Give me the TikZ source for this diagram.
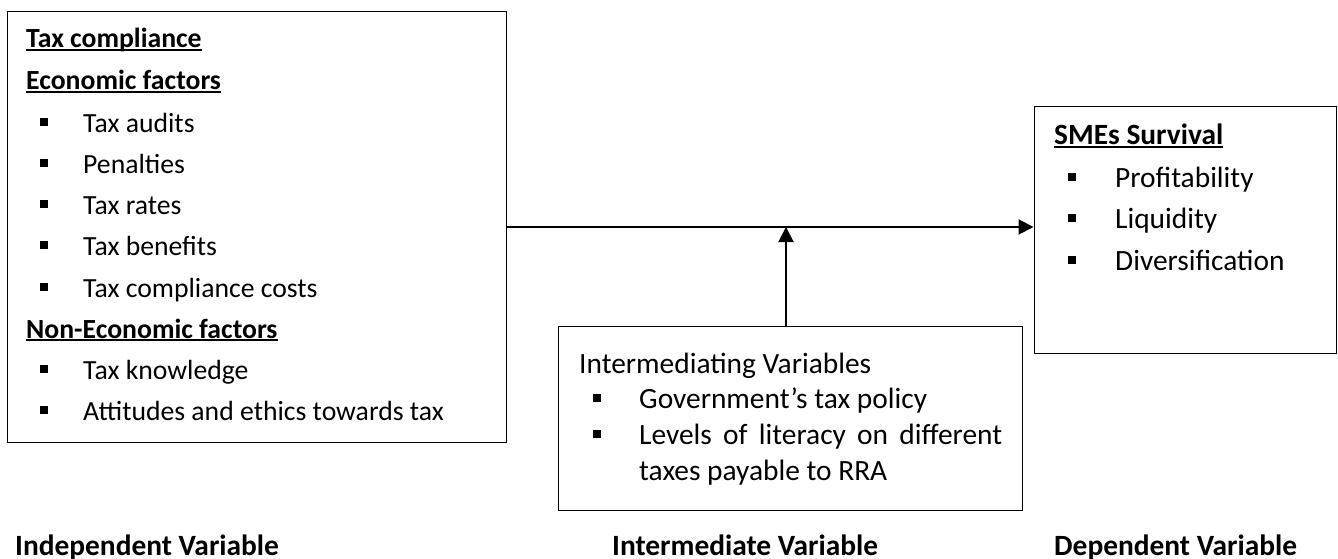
\documentclass[tikz,border=0pt]{standalone}
\usepackage{fontspec}
\setmainfont{Carlito}
\usepackage{tikz}
\usetikzlibrary{arrows.meta}
\usetikzlibrary{positioning}
\newcommand{\ulhead}[1]{\setbox0\hbox{#1}\rlap{\rule[-3pt]{\wd0}{1.6pt}}\box0}
\newcommand{\sqbul}[1]{\makebox[#1][l]{\rule[6pt]{8pt}{8pt}}}

\begin{document}
\begin{tikzpicture}[x=1pt,y=-1pt,>={Triangle[length=15pt,width=15pt]},
    box/.style={draw,line width=1pt,inner sep=0pt},
    txt/.style={anchor=base west,inner sep=0pt,font=\fontsize{27.7}{41}\selectfont},
    bigtxt/.style={txt,font=\fontsize{29.4}{36}\selectfont},
    link/.style={->,line width=2pt}]
  \useasboundingbox (0,0) rectangle (1338,559);
  % the three boxes
  \node[box,minimum width=499pt,minimum height=430pt] (indep) at (256.5,227) {};
  \node[box,minimum width=302pt,minimum height=246pt] (dep) at (1185,230) {};
  \node[box,minimum width=464pt,minimum height=184pt] (inter) at (790,418) {};
  % independent variable
  \node[txt] (tc) at (26,48) {\textbf{\ulhead{Tax compliance}}};
  \node[txt] (ef) at (26,90) {\textbf{\ulhead{Economic factors}}};
  \node[txt] (e1) at (40,132) {\sqbul{43pt}Tax audits};
  \node[txt] (e2) at (40,173) {\sqbul{43pt}Penalties};
  \node[txt] (e3) at (40,214) {\sqbul{43pt}Tax rates};
  \node[txt] (e4) at (40,255) {\sqbul{43pt}Tax benefits};
  \node[txt] (e5) at (40,297) {\sqbul{43pt}Tax compliance costs};
  \node[txt] (nf) at (26,338) {\textbf{\ulhead{Non-Economic factors}}};
  \node[txt] (n1) at (40,379) {\sqbul{43pt}Tax knowledge};
  \node[txt] (n2) at (40,420) {\sqbul{43pt}Attitudes and ethics towards tax};
  % dependent variable
  \node[bigtxt] (sv) at (1054,145) {\textbf{\ulhead{SMEs Survival}}};
  \node[bigtxt] (s1) at (1068,187) {\sqbul{47pt}Profitability};
  \node[bigtxt] (s2) at (1068,228) {\sqbul{47pt}Liquidity};
  \node[bigtxt] (s3) at (1068,270) {\sqbul{47pt}Diversification};
  % intermediating variables
  \node[bigtxt] (iv) at (579,373) {Intermediating Variables};
  \node[bigtxt] (i1) at (593,408) {\sqbul{46pt}Government’s tax policy};
  \node[bigtxt] (i2) at (593,444) {\sqbul{46pt}\makebox[363pt][s]{Levels of literacy on different}};
  \node[bigtxt] (i3) at (639,480) {taxes payable to RRA};
  % captions
  \node[bigtxt] (cap1) at (15,555) {\textbf{Independent Variable}};
  \node[bigtxt] (cap2) at (612,555) {\textbf{Intermediate Variable}};
  \node[bigtxt] (cap3) at (1054,555) {\textbf{Dependent Variable}};
  % arrows
  \draw[link] (indep.east) -- (indep.east -| dep.west);
  \draw[link] ([xshift=-4pt]inter.north) -- ([xshift=-4pt]inter.north |- indep.east);
\end{tikzpicture}
\end{document}
